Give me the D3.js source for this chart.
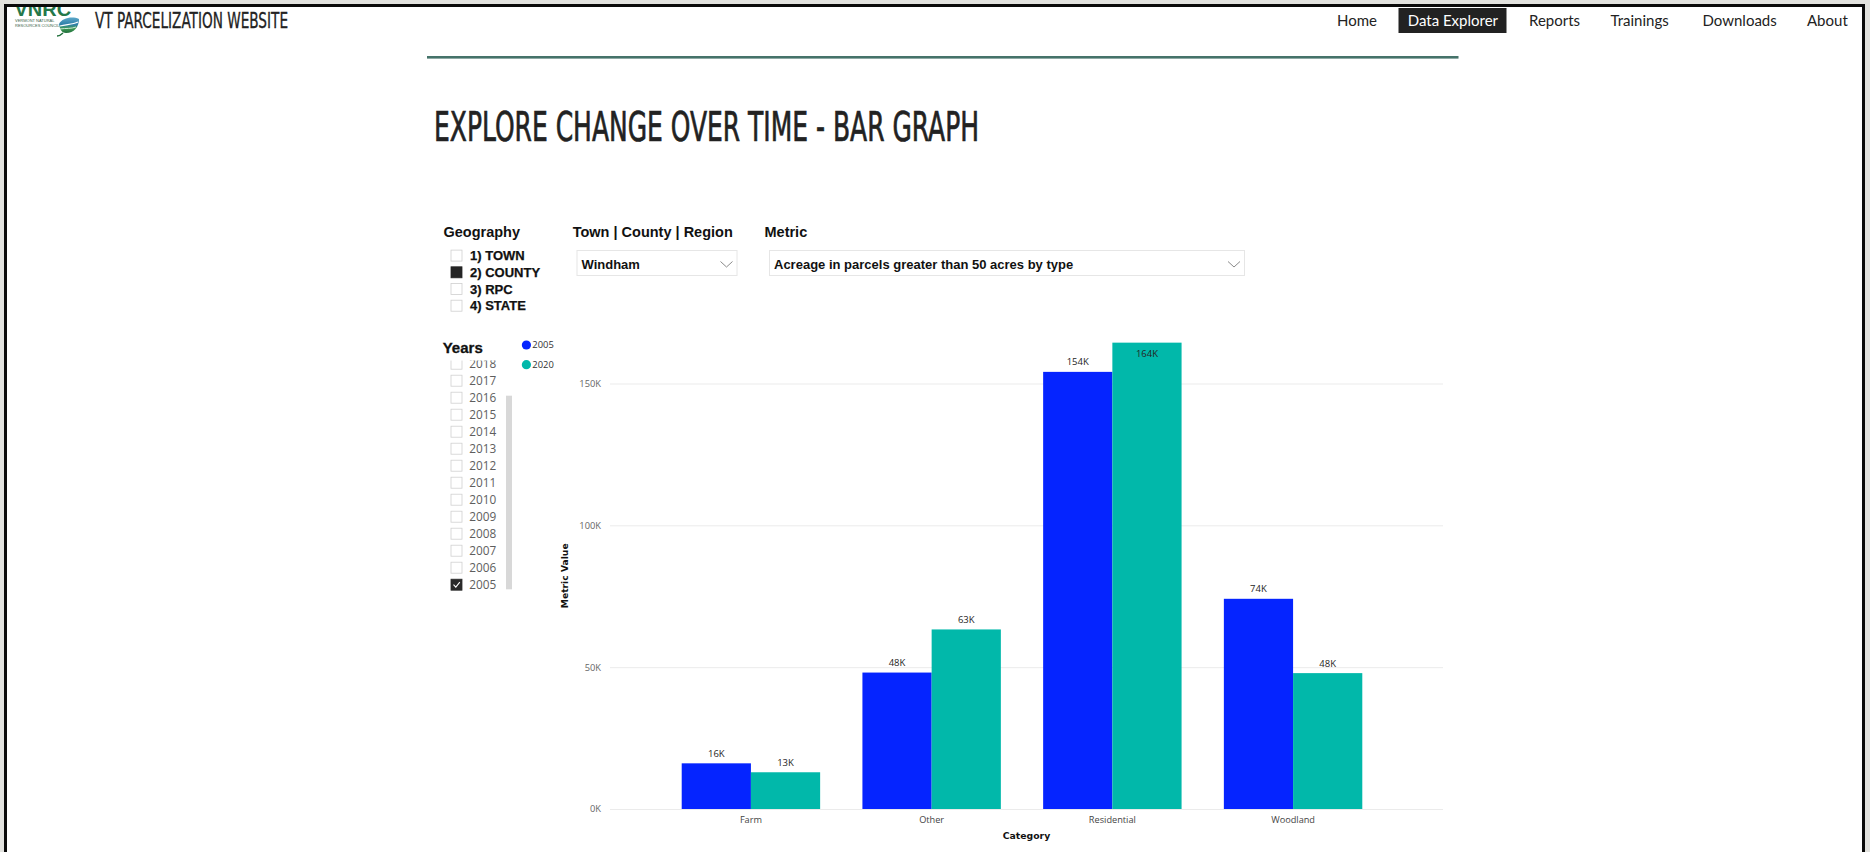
<!DOCTYPE html>
<html>
<head>
<meta charset="utf-8">
<title>VT Parcelization Website - Explore Change Over Time</title>
<script src="https://cdn.jsdelivr.net/npm/d3@7"></script>
<style>
  html, body { margin: 0; padding: 0; background: #e2e2de; }
  svg { display: block; }
</style>
</head>
<body>
<svg id="page" width="1870" height="852"></svg>
<script>
// ---- data ----
const categories = ["Farm", "Other", "Residential", "Woodland"];
const seriesYears = ["2005", "2020"];
const values2005 = [16100, 48100, 154100, 74100];
const values2020 = [12950, 63300, 164400, 47900];
const yTickValues = [0, 50000, 100000, 150000];
const yTickLabels = ["0K", "50K", "100K", "150K"];
const seriesColors = ["#0524ff", "#01b8aa"];

const navItems = ["Home", "Data Explorer", "Reports", "Trainings", "Downloads", "About"];
const navActive = "Data Explorer";
const geographyOptions = ["1) TOWN", "2) COUNTY", "3) RPC", "4) STATE"];
const geographySelected = "2) COUNTY";
const yearOptions = ["2018", "2017", "2016", "2015", "2014", "2013", "2012", "2011",
                     "2010", "2009", "2008", "2007", "2006", "2005"];
const yearSelected = "2005";
const placeName = "Windham";
const metricName = "Acreage in parcels greater than 50 acres by type";

const svg = d3.select("#page");

// ---- page frame ----
svg.append("rect").attr("x", 0).attr("y", 0).attr("width", 1870).attr("height", 852).attr("fill", "#e2e2de");
svg.append("rect").attr("x", 5.5).attr("y", 5.5).attr("width", 1858).attr("height", 900)
  .attr("fill", "#ffffff");

// ---- logo (clipped by the frame) ----
const defs = svg.append("defs");
defs.append("clipPath").attr("id", "logoClip")
  .append("rect").attr("x", 7).attr("y", 7).attr("width", 100).attr("height", 40);
const leafGrad = defs.append("linearGradient").attr("id", "leafGrad")
  .attr("x1", 0).attr("y1", 0).attr("x2", 0).attr("y2", 1);
leafGrad.append("stop").attr("offset", "0%").attr("stop-color", "#5aa6c8");
leafGrad.append("stop").attr("offset", "45%").attr("stop-color", "#2f7fa8");
leafGrad.append("stop").attr("offset", "70%").attr("stop-color", "#3f9a55");
leafGrad.append("stop").attr("offset", "100%").attr("stop-color", "#1f6e3a");

const logo = svg.append("g").attr("clip-path", "url(#logoClip)");
logo.append("text").attr("x", 14.5).attr("y", 15.5)
  .attr("font-family", "Liberation Sans, Arial, sans-serif").attr("font-weight", 700)
  .attr("font-size", 20).attr("fill", "#24784a").text("VNRC");
logo.append("text").attr("x", 15).attr("y", 21.5)
  .attr("font-family", "Liberation Sans, Arial, sans-serif").attr("font-size", 4)
  .attr("fill", "#3b5f48").text("VERMONT NATURAL");
logo.append("text").attr("x", 15).attr("y", 26.5)
  .attr("font-family", "Liberation Sans, Arial, sans-serif").attr("font-size", 4)
  .attr("fill", "#3b5f48").text("RESOURCES COUNCIL");
logo.append("path")
  .attr("d", "M59,24 C62,18 72,16 79,19 C79,27 74,33 66,33 C62,33 60,30 59,24 Z")
  .attr("fill", "url(#leafGrad)");
logo.append("path").attr("d", "M60,26 C66,24 72,25 78,22").attr("stroke", "#ffffff")
  .attr("stroke-width", 1.2).attr("fill", "none");
logo.append("path").attr("d", "M60,29 C66,28 71,29 76,27").attr("stroke", "#cfe8d6")
  .attr("stroke-width", 1).attr("fill", "none");
logo.append("path").attr("d", "M63,33 C61,35 59,36 57,36").attr("stroke", "#1f6e3a")
  .attr("stroke-width", 1.4).attr("fill", "none");

// frame border over everything at the edge
svg.append("rect").attr("x", 5.5).attr("y", 5.5).attr("width", 1858).attr("height", 900)
  .attr("fill", "none").attr("stroke", "#0a0a0a").attr("stroke-width", 3);

// ---- header ----
svg.append("text").attr("x", 95).attr("y", 28.3)
  .attr("font-family", "DejaVu Sans Condensed, Liberation Sans Narrow, sans-serif")
  .attr("font-size", 20.5).attr("fill", "#222").attr("stroke", "#222").attr("stroke-width", 0.3)
  .attr("textLength", 193).attr("lengthAdjust", "spacingAndGlyphs")
  .text("VT PARCELIZATION WEBSITE");

const navX = [1337, 1407.7, 1529, 1610.5, 1702.5, 1807];
const nav = svg.append("g").attr("font-family", "Lato, Open Sans, sans-serif").attr("font-size", 15);
navItems.forEach((name, i) => {
  if (name === navActive) {
    nav.append("rect").attr("x", 1398.5).attr("y", 8).attr("width", 108).attr("height", 25)
      .attr("fill", "#222");
  }
  nav.append("text").attr("x", navX[i]).attr("y", 26)
    .attr("fill", name === navActive ? "#ffffff" : "#222").text(name);
});

svg.append("rect").attr("x", 427).attr("y", 56).attr("width", 1031.5).attr("height", 2.6)
  .attr("fill", "#45736a");

svg.append("text").attr("x", 434).attr("y", 140.7)
  .attr("font-family", "DejaVu Sans Condensed, Liberation Sans Narrow, sans-serif")
  .attr("font-size", 40.5).attr("fill", "#222").attr("stroke", "#222").attr("stroke-width", 0.7)
  .attr("textLength", 545).attr("lengthAdjust", "spacingAndGlyphs")
  .text("EXPLORE CHANGE OVER TIME - BAR GRAPH");

// ---- slicers ----
const boldFont = "Liberation Sans, Arial, sans-serif";
const slicers = svg.append("g").attr("font-family", boldFont).attr("font-weight", 700).attr("fill", "#111");
slicers.append("text").attr("x", 443.5).attr("y", 237).attr("font-size", 14.5).text("Geography");
slicers.append("text").attr("x", 572.7).attr("y", 237).attr("font-size", 14.5).text("Town | County | Region");
slicers.append("text").attr("x", 764.5).attr("y", 237).attr("font-size", 14.5).text("Metric");

const geoRow = d3.scaleLinear().domain([0, 1]).range([255.7, 272.4]);
geographyOptions.forEach((g, i) => {
  const cy = geoRow(i);
  const sel = g === geographySelected;
  svg.append("rect").attr("x", 451).attr("y", cy - 5.6).attr("width", 11).attr("height", 11)
    .attr("fill", sel ? "#252525" : "#ffffff").attr("stroke", sel ? "#252525" : "#cfcfcf").attr("stroke-width", 0.8);
  svg.append("text").attr("x", 470).attr("y", cy + 4.6)
    .attr("font-family", boldFont).attr("font-weight", 700).attr("font-size", 13).attr("fill", "#111")
    .attr("stroke", "#111").attr("stroke-width", 0.25).text(g);
});

function dropdown(x0, x1, label) {
  const g = svg.append("g");
  g.append("rect").attr("x", x0 + 0.5).attr("y", 250.5).attr("width", x1 - x0).attr("height", 25)
    .attr("fill", "#ffffff").attr("stroke", "#e6e6e6");
  g.append("text").attr("x", x0 + 5).attr("y", 268.5)
    .attr("font-family", boldFont).attr("font-weight", 700).attr("font-size", 13).attr("fill", "#111").text(label);
  g.append("polyline")
    .attr("points", `${x1 - 16},261.5 ${x1 - 10},267 ${x1 - 4},261.5`)
    .attr("fill", "none").attr("stroke", "#8a8a8a").attr("stroke-width", 1);
}
dropdown(576.5, 736.5, placeName);
dropdown(769, 1244, metricName);

// ---- years slicer ----
svg.append("text").attr("x", 442.7).attr("y", 352.5)
  .attr("font-family", boldFont).attr("font-weight", 700).attr("font-size", 15).attr("fill", "#111")
  .attr("stroke", "#111").attr("stroke-width", 0.3).text("Years");

defs.append("clipPath").attr("id", "yearClip")
  .append("rect").attr("x", 440).attr("y", 360.5).attr("width", 66).attr("height", 240);
const yearRow = d3.scaleLinear().domain([0, 1]).range([363.7, 380.7]);
const years = svg.append("g").attr("clip-path", "url(#yearClip)");
yearOptions.forEach((yr, i) => {
  const cy = yearRow(i);
  const sel = yr === yearSelected;
  years.append("rect").attr("x", 451).attr("y", cy - 5.5).attr("width", 11).attr("height", 11)
    .attr("fill", sel ? "#2b2b2b" : "#ffffff").attr("stroke", sel ? "#2b2b2b" : "#d0d0d0").attr("stroke-width", 0.8);
  if (sel) {
    years.append("polyline").attr("points", `${453.5},${cy} ${455.8},${cy + 2.4} ${459.8},${cy - 2.6}`)
      .attr("fill", "none").attr("stroke", "#ffffff").attr("stroke-width", 1.1);
  }
  years.append("text").attr("x", 469.3).attr("y", cy + 4.2)
    .attr("font-family", "Open Sans, sans-serif").attr("font-size", 11.8).attr("fill", "#5e5e5e").text(yr);
});
svg.append("rect").attr("x", 506).attr("y", 395.7).attr("width", 6).attr("height", 193.6).attr("fill", "#d8d8d8");

// legend
const legend = svg.append("g").attr("font-family", "Open Sans, sans-serif").attr("font-size", 9.4).attr("fill", "#333");
seriesYears.forEach((s, i) => {
  const cy = 345 + i * 19.7;
  legend.append("circle").attr("cx", 526.4).attr("cy", cy).attr("r", 4.6).attr("fill", seriesColors[i]);
  legend.append("text").attr("x", 532.3).attr("y", cy + 3.3).text(s);
});

// ---- bar chart ----
const plotLeft = 610, plotRight = 1443, plotTop = 340;
const y = d3.scaleLinear().domain([0, 150000]).range([809, 383.5]);
const x = d3.scaleBand().domain(categories).range([604, 1440]).paddingInner(0.234).paddingOuter(0.43);
const xSeries = d3.scaleBand().domain(seriesYears).range([0, x.bandwidth()]).padding(0);

const chart = svg.append("g");

const yAxis = chart.append("g").attr("transform", `translate(${plotLeft},0)`)
  .call(d3.axisLeft(y).tickValues(yTickValues)
    .tickFormat((d, i) => yTickLabels[i])
    .tickSize(-(plotRight - plotLeft)).tickPadding(9));
yAxis.select(".domain").remove();
yAxis.selectAll(".tick line").attr("stroke", "#ebebeb");
yAxis.selectAll(".tick text").attr("font-family", "Open Sans, sans-serif").attr("font-size", 9.3).attr("fill", "#666");

const xAxis = chart.append("g").attr("transform", `translate(0,${y(0)})`)
  .call(d3.axisBottom(x).tickSize(0).tickPadding(7));
xAxis.select(".domain").remove();
xAxis.selectAll(".tick text").attr("font-family", "Open Sans, sans-serif").attr("font-size", 9.2).attr("fill", "#444");

const rows = categories.map((c, i) => ({ category: c, values: [values2005[i], values2020[i]] }));
const fmt = v => Math.round(v / 1000) + "K";

const groups = chart.selectAll("g.cat").data(rows).join("g").attr("class", "cat")
  .attr("transform", d => `translate(${x(d.category)},0)`);

groups.selectAll("rect").data(d => d.values.map((v, j) => ({ series: seriesYears[j], value: v, idx: j })))
  .join("rect")
  .attr("x", d => xSeries(d.series))
  .attr("y", d => y(d.value))
  .attr("width", xSeries.bandwidth())
  .attr("height", d => y(0) - y(d.value))
  .attr("fill", d => seriesColors[d.idx]);

groups.selectAll("text.lbl").data(d => d.values.map((v, j) => ({ series: seriesYears[j], value: v })))
  .join("text").attr("class", "lbl")
  .attr("x", d => xSeries(d.series) + xSeries.bandwidth() / 2)
  .attr("y", d => {
    const top = y(d.value);
    return (top - 15 < plotTop) ? top + 14.5 : top - 6.5;
  })
  .attr("text-anchor", "middle")
  .attr("font-family", "Open Sans, sans-serif").attr("font-size", 9.5).attr("fill", "#252423")
  .text(d => fmt(d.value));

// axis titles
chart.append("text").attr("transform", "translate(568.3,575.8) rotate(-90)")
  .attr("text-anchor", "middle").attr("font-family", "DejaVu Sans, sans-serif").attr("font-weight", 700)
  .attr("font-size", 9.2).attr("fill", "#111").text("Metric Value");
chart.append("text").attr("x", (plotLeft + plotRight) / 2).attr("y", 839)
  .attr("text-anchor", "middle").attr("font-family", "DejaVu Sans, sans-serif").attr("font-weight", 700)
  .attr("font-size", 9.3).attr("fill", "#111").text("Category");
</script>
</body>
</html>
